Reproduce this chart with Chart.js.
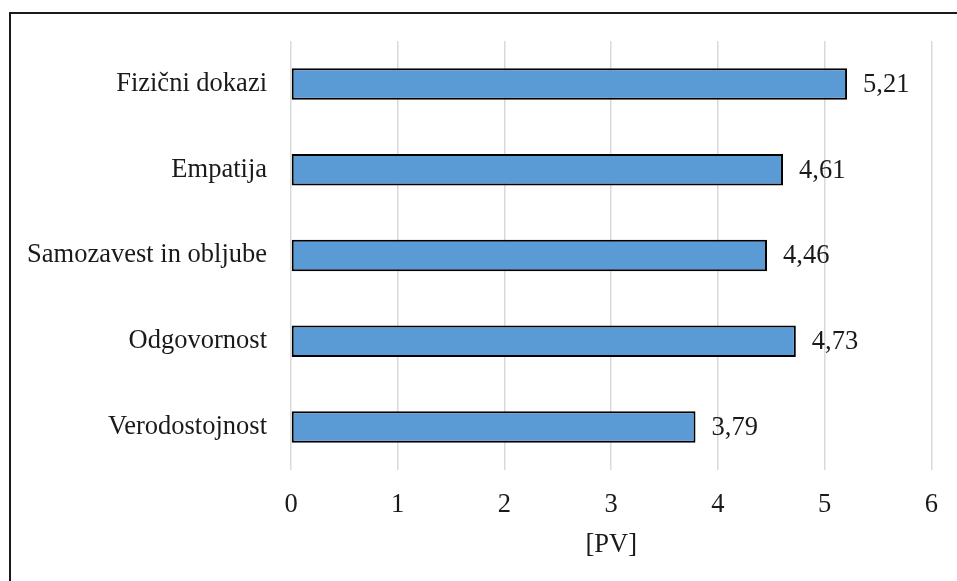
<!DOCTYPE html>
<html>
<head>
<meta charset="utf-8">
<script src="https://cdn.jsdelivr.net/npm/chart.js@4/dist/chart.umd.min.js"></script>
<style>
  html, body { margin: 0; padding: 0; background: #ffffff; }
  #wrap { width: 957px; height: 581px; position: relative; }
</style>
</head>
<body>
<div id="wrap"><canvas id="chart"></canvas></div>
<script>
const categories = ["Fizični dokazi", "Empatija", "Samozavest in obljube", "Odgovornost", "Verodostojnost"];
const scores = [5.21, 4.61, 4.46, 4.73, 3.79];
const axisTicks = [0, 1, 2, 3, 4, 5, 6];
const axisTitle = "[PV]";

const serif = "'Liberation Serif', 'Times New Roman', serif";
const fontSize = 26.5;

// frame around the whole figure (runs off the right and bottom edges)
const framePlugin = {
  id: "framePlugin",
  beforeDraw(chart) {
    const { ctx } = chart;
    ctx.save();
    ctx.strokeStyle = "#1a1a1a";
    ctx.lineWidth = 2;
    ctx.strokeRect(10, 13, chart.width + 100, chart.height + 100);
    ctx.restore();
  }
};

// value printed right of each bar, decimal comma
const valueLabelPlugin = {
  id: "valueLabelPlugin",
  afterDatasetsDraw(chart) {
    const { ctx } = chart;
    const meta = chart.getDatasetMeta(0);
    ctx.save();
    ctx.font = fontSize + "px " + serif;
    ctx.fillStyle = "#1a1a1a";
    ctx.textAlign = "left";
    ctx.textBaseline = "middle";
    meta.data.forEach((bar, i) => {
      const text = scores[i].toFixed(2).replace(".", ",");
      ctx.fillText(text, bar.x + 16, bar.y + 1);
    });
    ctx.restore();
  }
};

Chart.register(framePlugin, valueLabelPlugin);

new Chart(document.getElementById("chart"), {
  type: "bar",
  data: {
    labels: categories,
    datasets: [{
      data: scores,
      backgroundColor: "#5b9bd5",
      borderColor: "#000000",
      borderWidth: 2,
      borderSkipped: false,
      barPercentage: 0.367,
      categoryPercentage: 1
    }]
  },
  options: {
    indexAxis: "y",
    responsive: true,
    maintainAspectRatio: false,
    animation: false,
    layout: {
      padding: { top: 41, right: 17, bottom: 0, left: 0 }
    },
    plugins: {
      legend: { display: false },
      tooltip: { enabled: false }
    },
    scales: {
      x: {
        min: axisTicks[0],
        max: axisTicks[axisTicks.length - 1],
        afterBuildTicks(scale) {
          scale.ticks = axisTicks.map((v) => ({ value: v }));
        },
        afterFit(scale) {
          scale.height = 111;
        },
        border: { display: false },
        grid: {
          color: "#d9d9d9",
          lineWidth: 1.5,
          drawTicks: false
        },
        ticks: {
          color: "#1a1a1a",
          padding: 19,
          font: { family: serif, size: fontSize }
        },
        title: {
          display: true,
          text: axisTitle,
          color: "#1a1a1a",
          padding: { top: 6, bottom: 20 },
          font: { family: serif, size: fontSize }
        }
      },
      y: {
        afterFit(scale) {
          scale.width = 291;
        },
        border: { display: false },
        grid: { display: false, drawTicks: false },
        ticks: {
          color: "#1a1a1a",
          padding: 24,
          font: { family: serif, size: fontSize }
        }
      }
    }
  }
});
</script>
</body>
</html>
